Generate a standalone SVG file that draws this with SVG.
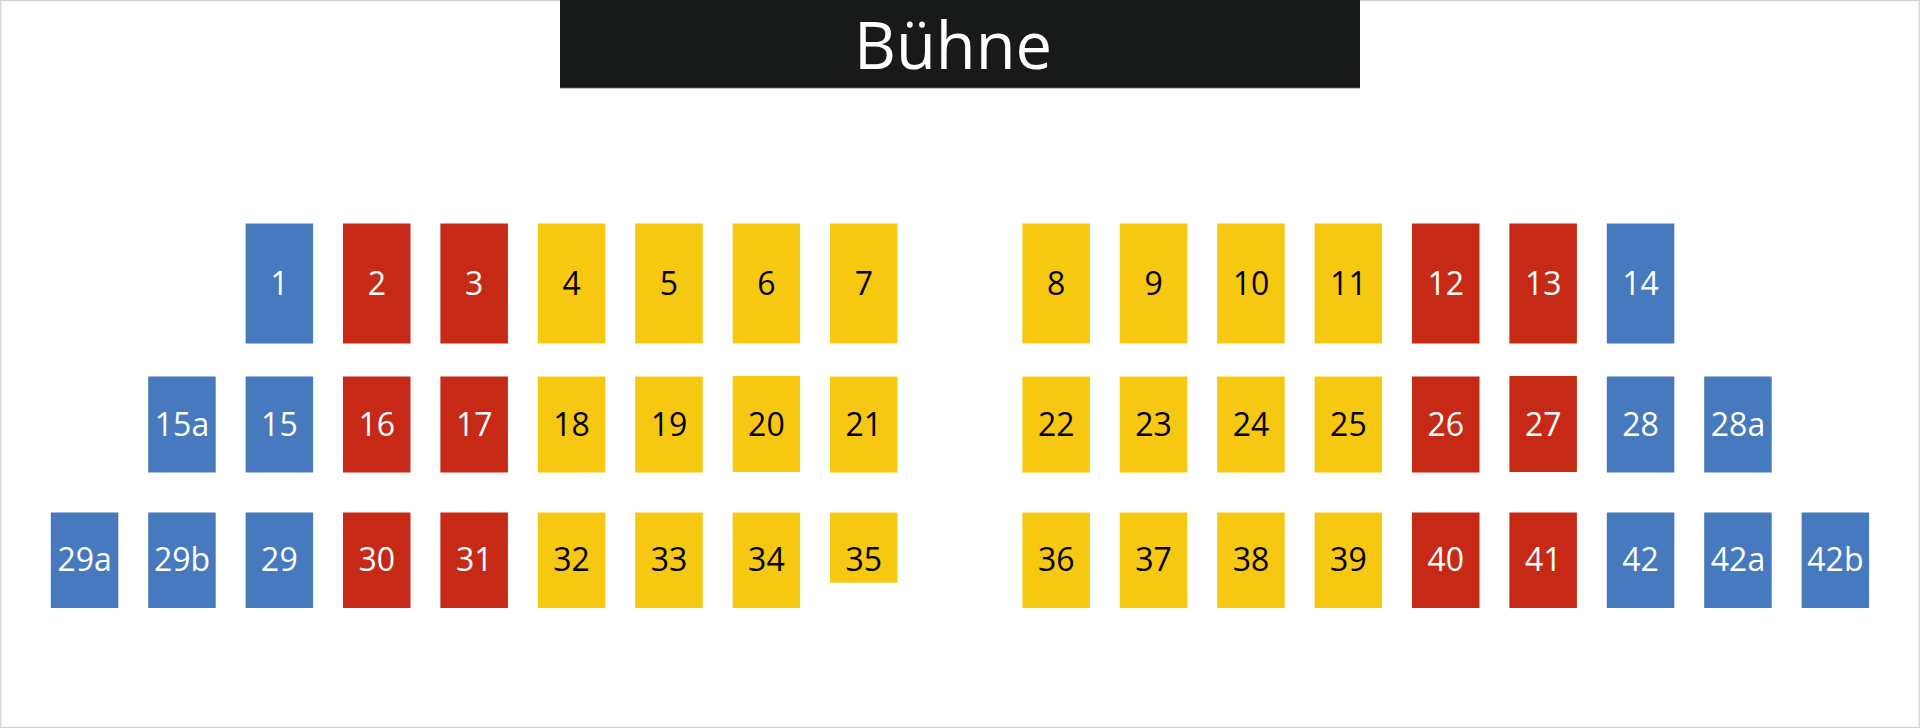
<svg xmlns="http://www.w3.org/2000/svg" width="1920" height="728" viewBox="0 0 1920 728">
<style>
.b{fill:#4679be}.r{fill:#c62a16}.y{fill:#f6c812}
text{font-family:"Open Sans","Liberation Sans",sans-serif;font-size:32px;text-anchor:middle}
.w{fill:#ffffff}.k{fill:#000000}
</style>
<rect x="0" y="0" width="1920" height="728" fill="#ffffff"/>
<rect x="0.5" y="0.5" width="1919" height="727" fill="none" stroke="#d6d6d6" stroke-width="1.5"/>
<g id="stage">
<rect x="560" y="0" width="800" height="88" fill="#181a19"/>
<line x1="560" y1="88.2" x2="1360" y2="88.2" stroke="#8a8a8a" stroke-width="0.8"/>
<text x="953" y="69" class="w" style="font-size:65px" textLength="198" lengthAdjust="spacingAndGlyphs">Bühne</text>
</g>
<g id="seats">
<g id="s1"><rect class="b" x="245.6" y="223.5" width="67.5" height="120"/><text class="w" x="279.4" y="295">1</text></g>
<g id="s2"><rect class="r" x="343" y="223.5" width="67.5" height="120"/><text class="w" x="376.8" y="295">2</text></g>
<g id="s3"><rect class="r" x="440.4" y="223.5" width="67.5" height="120"/><text class="w" x="474.2" y="295">3</text></g>
<g id="s4"><rect class="y" x="537.8" y="223.5" width="67.5" height="120"/><text class="k" x="571.6" y="295">4</text></g>
<g id="s5"><rect class="y" x="635.2" y="223.5" width="67.5" height="120"/><text class="k" x="669" y="295">5</text></g>
<g id="s6"><rect class="y" x="732.6" y="223.5" width="67.5" height="120"/><text class="k" x="766.4" y="295">6</text></g>
<g id="s7"><rect class="y" x="830" y="223.5" width="67.5" height="120"/><text class="k" x="863.8" y="295">7</text></g>
<g id="s8"><rect class="y" x="1022.4" y="223.5" width="67.5" height="120"/><text class="k" x="1056.2" y="295">8</text></g>
<g id="s9"><rect class="y" x="1119.8" y="223.5" width="67.5" height="120"/><text class="k" x="1153.6" y="295">9</text></g>
<g id="s10"><rect class="y" x="1217.2" y="223.5" width="67.5" height="120"/><text class="k" x="1251" y="295">10</text></g>
<g id="s11"><rect class="y" x="1314.6" y="223.5" width="67.5" height="120"/><text class="k" x="1348.4" y="295">11</text></g>
<g id="s12"><rect class="r" x="1412" y="223.5" width="67.5" height="120"/><text class="w" x="1445.8" y="295">12</text></g>
<g id="s13"><rect class="r" x="1509.4" y="223.5" width="67.5" height="120"/><text class="w" x="1543.2" y="295">13</text></g>
<g id="s14"><rect class="b" x="1606.8" y="223.5" width="67.5" height="120"/><text class="w" x="1640.6" y="295">14</text></g>

<g id="s15a"><rect class="b" x="148.2" y="376.5" width="67.5" height="96"/><text class="w" x="182" y="435.7">15a</text></g>
<g id="s15"><rect class="b" x="245.6" y="376.5" width="67.5" height="96"/><text class="w" x="279.4" y="435.7">15</text></g>
<g id="s16"><rect class="r" x="343" y="376.5" width="67.5" height="96"/><text class="w" x="376.8" y="435.7">16</text></g>
<g id="s17"><rect class="r" x="440.4" y="376.5" width="67.5" height="96"/><text class="w" x="474.2" y="435.7">17</text></g>
<g id="s18"><rect class="y" x="537.8" y="376.5" width="67.5" height="96"/><text class="k" x="571.6" y="435.7">18</text></g>
<g id="s19"><rect class="y" x="635.2" y="376.5" width="67.5" height="96"/><text class="k" x="669" y="435.7">19</text></g>
<g id="s20"><rect class="y" x="732.6" y="376" width="67.5" height="96"/><text class="k" x="766.4" y="435.7">20</text></g>
<g id="s21"><rect class="y" x="830" y="376.5" width="67.5" height="96"/><text class="k" x="863.8" y="435.7">21</text></g>
<g id="s22"><rect class="y" x="1022.4" y="376.5" width="67.5" height="96"/><text class="k" x="1056.2" y="435.7">22</text></g>
<g id="s23"><rect class="y" x="1119.8" y="376.5" width="67.5" height="96"/><text class="k" x="1153.6" y="435.7">23</text></g>
<g id="s24"><rect class="y" x="1217.2" y="376.5" width="67.5" height="96"/><text class="k" x="1251" y="435.7">24</text></g>
<g id="s25"><rect class="y" x="1314.6" y="376.5" width="67.5" height="96"/><text class="k" x="1348.4" y="435.7">25</text></g>
<g id="s26"><rect class="r" x="1412" y="376.5" width="67.5" height="96"/><text class="w" x="1445.8" y="435.7">26</text></g>
<g id="s27"><rect class="r" x="1509.4" y="376" width="67.5" height="96"/><text class="w" x="1543.2" y="435.7">27</text></g>
<g id="s28"><rect class="b" x="1606.8" y="376.5" width="67.5" height="96"/><text class="w" x="1640.6" y="435.7">28</text></g>
<g id="s28a"><rect class="b" x="1704.2" y="376.5" width="67.5" height="96"/><text class="w" x="1738" y="435.7">28a</text></g>

<g id="s29a"><rect class="b" x="50.8" y="512.5" width="67.5" height="95.5"/><text class="w" x="84.6" y="571.3">29a</text></g>
<g id="s29b"><rect class="b" x="148.2" y="512.5" width="67.5" height="95.5"/><text class="w" x="182" y="571.3">29b</text></g>
<g id="s29"><rect class="b" x="245.6" y="512.5" width="67.5" height="95.5"/><text class="w" x="279.4" y="571.3">29</text></g>
<g id="s30"><rect class="r" x="343" y="512.5" width="67.5" height="95.5"/><text class="w" x="376.8" y="571.3">30</text></g>
<g id="s31"><rect class="r" x="440.4" y="512.5" width="67.5" height="95.5"/><text class="w" x="474.2" y="571.3">31</text></g>
<g id="s32"><rect class="y" x="537.8" y="512.5" width="67.5" height="95.5"/><text class="k" x="571.6" y="571.3">32</text></g>
<g id="s33"><rect class="y" x="635.2" y="512.5" width="67.5" height="95.5"/><text class="k" x="669" y="571.3">33</text></g>
<g id="s34"><rect class="y" x="732.6" y="512.5" width="67.5" height="95.5"/><text class="k" x="766.4" y="571.3">34</text></g>
<g id="s35"><rect class="y" x="830" y="512.5" width="67.5" height="70.2"/><text class="k" x="863.8" y="571.3">35</text></g>
<g id="s36"><rect class="y" x="1022.4" y="512.5" width="67.5" height="95.5"/><text class="k" x="1056.2" y="571.3">36</text></g>
<g id="s37"><rect class="y" x="1119.8" y="512.5" width="67.5" height="95.5"/><text class="k" x="1153.6" y="571.3">37</text></g>
<g id="s38"><rect class="y" x="1217.2" y="512.5" width="67.5" height="95.5"/><text class="k" x="1251" y="571.3">38</text></g>
<g id="s39"><rect class="y" x="1314.6" y="512.5" width="67.5" height="95.5"/><text class="k" x="1348.4" y="571.3">39</text></g>
<g id="s40"><rect class="r" x="1412" y="512.5" width="67.5" height="95.5"/><text class="w" x="1445.8" y="571.3">40</text></g>
<g id="s41"><rect class="r" x="1509.4" y="512.5" width="67.5" height="95.5"/><text class="w" x="1543.2" y="571.3">41</text></g>
<g id="s42"><rect class="b" x="1606.8" y="512.5" width="67.5" height="95.5"/><text class="w" x="1640.6" y="571.3">42</text></g>
<g id="s42a"><rect class="b" x="1704.2" y="512.5" width="67.5" height="95.5"/><text class="w" x="1738" y="571.3">42a</text></g>
<g id="s42b"><rect class="b" x="1801.6" y="512.5" width="67.5" height="95.5"/><text class="w" x="1835.4" y="571.3">42b</text></g>
</g>
<g id="connectors"/>
</svg>
